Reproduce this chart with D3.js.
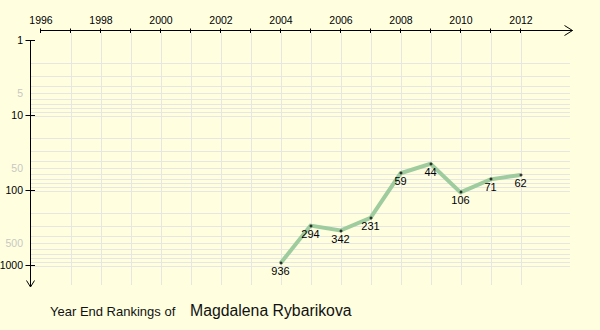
<!DOCTYPE html>
<html><head><meta charset="utf-8">
<script src="https://cdn.jsdelivr.net/npm/d3@7"></script>
<style>
html,body{margin:0;padding:0;background:#ffffe0;}
svg{display:block;}
text{font-family:"Liberation Sans",Arial,sans-serif;}
</style></head>
<body>
<svg id="c" width="600" height="330"></svg>
<script>
const years = [2004, 2005, 2006, 2007, 2008, 2009, 2010, 2011, 2012];
const ranks = [936, 294, 342, 231, 59, 44, 106, 71, 62];
const xTickLabels = [1996, 1998, 2000, 2002, 2004, 2006, 2008, 2010, 2012];
const yTickMajor = [1, 10, 100, 1000];
const yTickMinor = [5, 50, 500];
const playerName = "Magdalena Rybarikova";
const titlePrefix = "Year End Rankings of";

const svg = d3.select("#c");
svg.append("rect").attr("width",600).attr("height",330).attr("fill","#ffffe0");

const x = d3.scaleLinear().domain([1996, 2012]).range([40.5, 520.5]);
const y = d3.scaleLog().domain([1, 1000]).range([40.5, 265.5]);

const axisX = 30.5, axisY = 30.5;
const gridColor = "#e6e6e2";

// horizontal grid lines
const hgrid = [];
[1,10,100].forEach(d => { for (let k=2;k<=10;k++) hgrid.push(d*k); });
svg.append("g").selectAll("line").data(hgrid).join("line")
  .attr("x1", 31).attr("x2", 570)
  .attr("y1", d => Math.round(y(d)) + 0.5).attr("y2", d => Math.round(y(d)) + 0.5)
  .attr("stroke", gridColor).attr("stroke-width", 1);

// vertical grid lines
const vgrid = d3.range(1997, 2013);
svg.append("g").selectAll("line").data(vgrid).join("line")
  .attr("x1", d => Math.round(x(d)) + 0.5).attr("x2", d => Math.round(x(d)) + 0.5)
  .attr("y1", 33).attr("y2", 285)
  .attr("stroke", gridColor).attr("stroke-width", 1);

// X axis (top)
svg.append("line").attr("x1", x(1996)).attr("x2", 572.5).attr("y1", axisY).attr("y2", axisY)
  .attr("stroke", "#000");
svg.append("path").attr("d", "M564.5,25.5L572.5,30.5L564.5,35.5").attr("fill","none").attr("stroke","#000");
svg.append("g").selectAll("line").data(d3.range(1996, 2013)).join("line")
  .attr("x1", d => x(d)).attr("x2", d => x(d)).attr("y1", 28.5).attr("y2", 33)
  .attr("stroke", "#000");
const xAxis = d3.axisTop(x).tickValues(xTickLabels).tickFormat(d3.format("d")).tickSize(0).tickPadding(0);
const gx = svg.append("g").attr("transform", "translate(0,24)").call(xAxis);
gx.select(".domain").remove();
gx.selectAll("text").attr("font-size", "10.5px").attr("fill", "#000")
  .attr("font-family", '"Liberation Sans",Arial,sans-serif').attr("dy", 0);

// Y axis (left)
svg.append("line").attr("x1", axisX).attr("x2", axisX).attr("y1", y(1)).attr("y2", 286.5).attr("stroke", "#000");
svg.append("path").attr("d", "M26.5,280.5L30.5,287L34.5,280.5").attr("fill","none").attr("stroke","#000");
svg.append("g").selectAll("line").data(yTickMajor).join("line")
  .attr("x1", 25.5).attr("x2", 35).attr("y1", d => y(d)).attr("y2", d => y(d)).attr("stroke", "#000");
const yAxis = d3.axisLeft(y).tickValues(yTickMajor.concat(yTickMinor)).tickFormat(d3.format("d")).tickSize(0).tickPadding(0);
const gy = svg.append("g").attr("transform", "translate(23,0)").call(yAxis);
gy.select(".domain").remove();
gy.selectAll("text").attr("font-size", "10.5px")
  .attr("font-family", '"Liberation Sans",Arial,sans-serif')
  .attr("fill", d => yTickMinor.includes(d) ? "#c8c8c0" : "#000");

// line
const pts = years.map((yr, i) => ({yr, r: ranks[i]}));
svg.append("path").datum(pts)
  .attr("d", d3.line().x(d => x(d.yr)).y(d => y(d.r)))
  .attr("fill", "none").attr("stroke", "#9fcc9f").attr("stroke-width", 4)
  .attr("stroke-linejoin", "miter");

// markers
const mk = svg.append("g").selectAll("g").data(pts).join("g")
  .attr("transform", d => `translate(${Math.round(x(d.yr))},${Math.round(y(d.r))})`);
mk.append("rect").attr("x", -1.5).attr("y", -0.5).attr("width", 3).attr("height", 1).attr("fill", "#000");
mk.append("rect").attr("x", -0.5).attr("y", -1.5).attr("width", 1).attr("height", 3).attr("fill", "#000");

// labels
svg.append("g").selectAll("text").data(pts).join("text")
  .attr("x", d => x(d.yr)).attr("y", d => y(d.r) + 12)
  .attr("text-anchor", "middle").attr("font-size", "11px").attr("fill", "#000")
  .text(d => d.r);

// title
svg.append("text").attr("x", 50).attr("y", 315.5).attr("font-size", "13px").attr("fill", "#111").text(titlePrefix);
svg.append("text").attr("x", 190).attr("y", 316).attr("font-size", "15.8px").attr("fill", "#111").text(playerName);
</script>
</body></html>
